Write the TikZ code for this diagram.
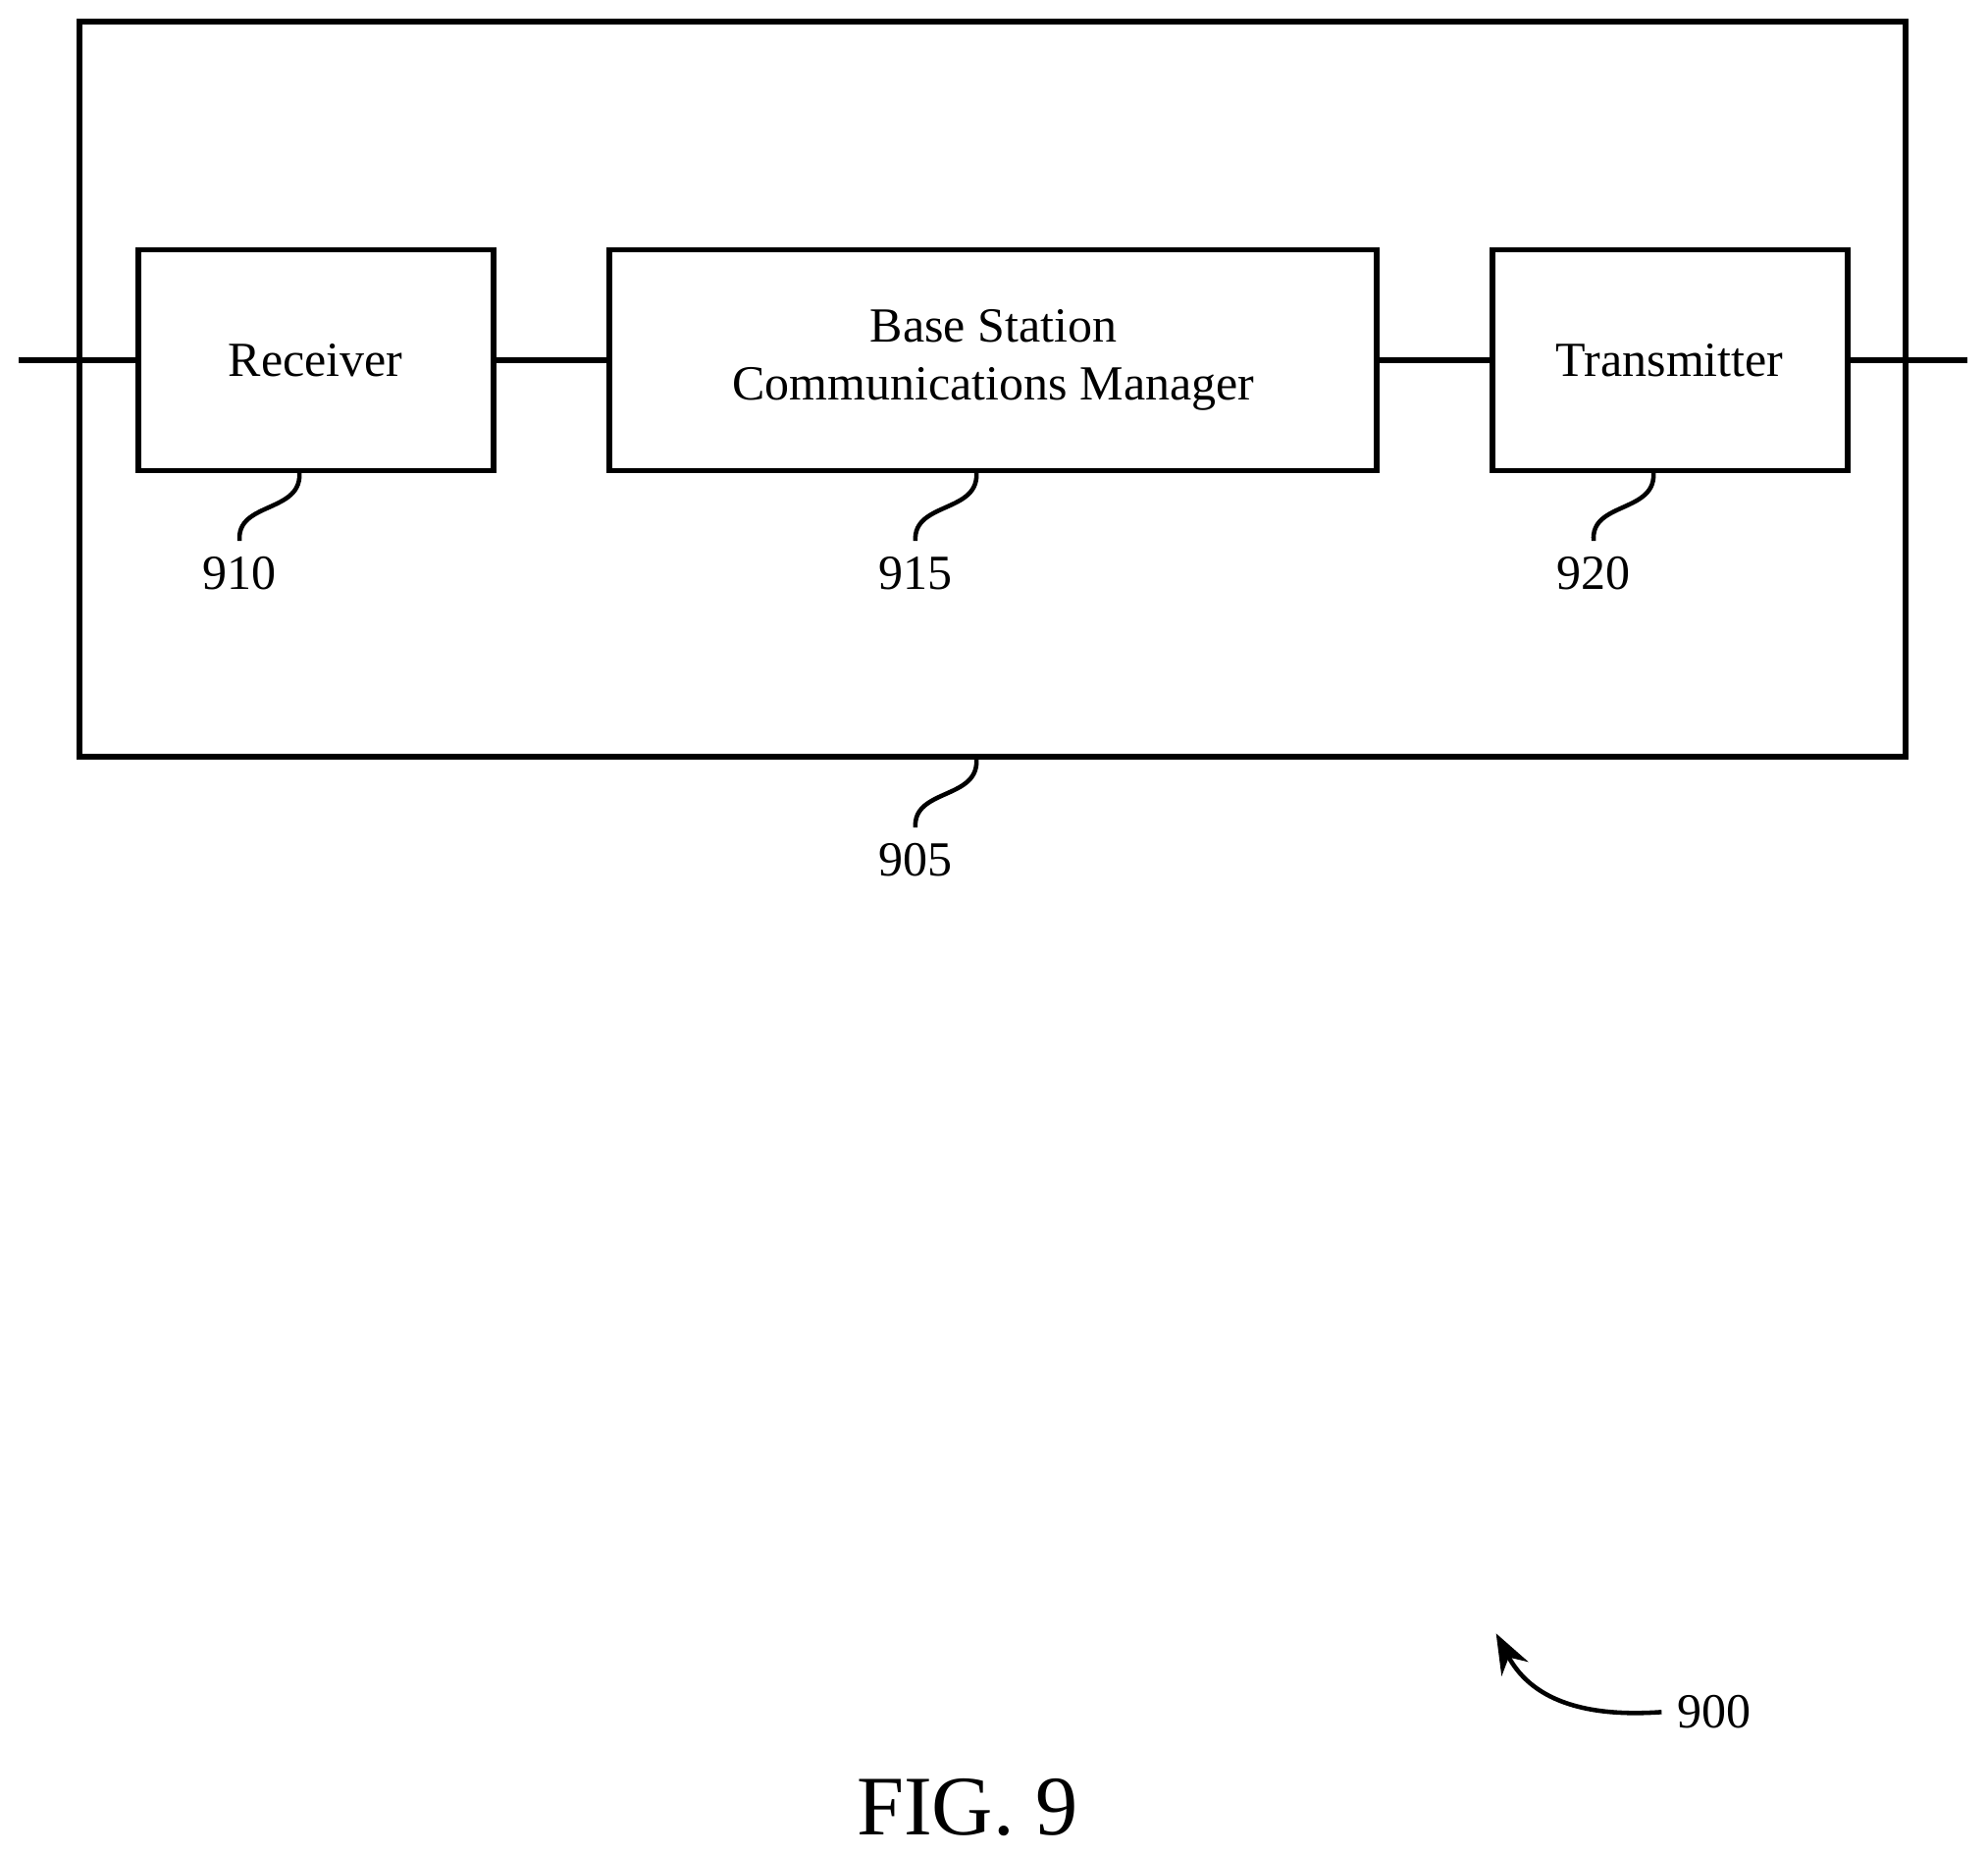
\documentclass[tikz,border=0pt]{standalone}
\usepackage{fontspec}
\setmainfont{Liberation Serif}
\usetikzlibrary{arrows.meta}
\begin{document}
\begin{tikzpicture}[x=0.01cm,y=-0.01cm,
 box/.style={draw,line width=1.3pt},
 ln/.style={line width=1.3pt},
 lead/.style={line width=1pt},
 txt/.style={font=\fontsize{11}{13}\selectfont,align=center}]
\useasboundingbox (0,0) rectangle (1568,1462);
\draw[box] (63,17) rectangle (1503,597);
\coordinate (outb) at (770,597);
\node[box,minimum width=2.8cm,minimum height=1.74cm,txt] (rx) at (249,284) {Receiver};
\node[box,minimum width=6.05cm,minimum height=1.74cm,txt] (bs) at (783.5,284) {Base Station\\Communications Manager};
\node[box,minimum width=2.8cm,minimum height=1.74cm,txt] (tx) at (1317,284) {Transmitter};
\coordinate (l0) at (15,284);
\coordinate (r0) at (1552,284);
\draw[ln] (l0) -- (rx.west);
\draw[ln] (rx.east) -- (bs.west);
\draw[ln] (bs.east) -- (tx.west);
\draw[ln] (tx.east) -- (r0);
\node[txt] (n910) at (189,452) {910};
\node[txt] (n915) at (722,452) {915};
\node[txt] (n920) at (1257,452) {920};
\node[txt] (n905) at (722,678) {905};
\draw[lead] (236,371) .. controls (240,405) and (186,395) .. (n910.north);
\draw[lead] (770,371) .. controls (774,405) and (720,395) .. (n915.north);
\draw[lead] (1304,371) .. controls (1308,405) and (1254,395) .. (n920.north);
\draw[lead] (outb) .. controls (774,631) and (720,621) .. (n905.north);
\node[txt] (n900) at (1352,1350) {900};
\coordinate (a900) at (1180,1288);
\draw[lead,-{Stealth[length=9pt]}] (n900.west) .. controls (1240,1355) and (1205,1335) .. (a900);
\node[font=\fontsize{19}{22}\selectfont] (fig) at (763,1425) {FIG. 9};
\end{tikzpicture}
\end{document}
